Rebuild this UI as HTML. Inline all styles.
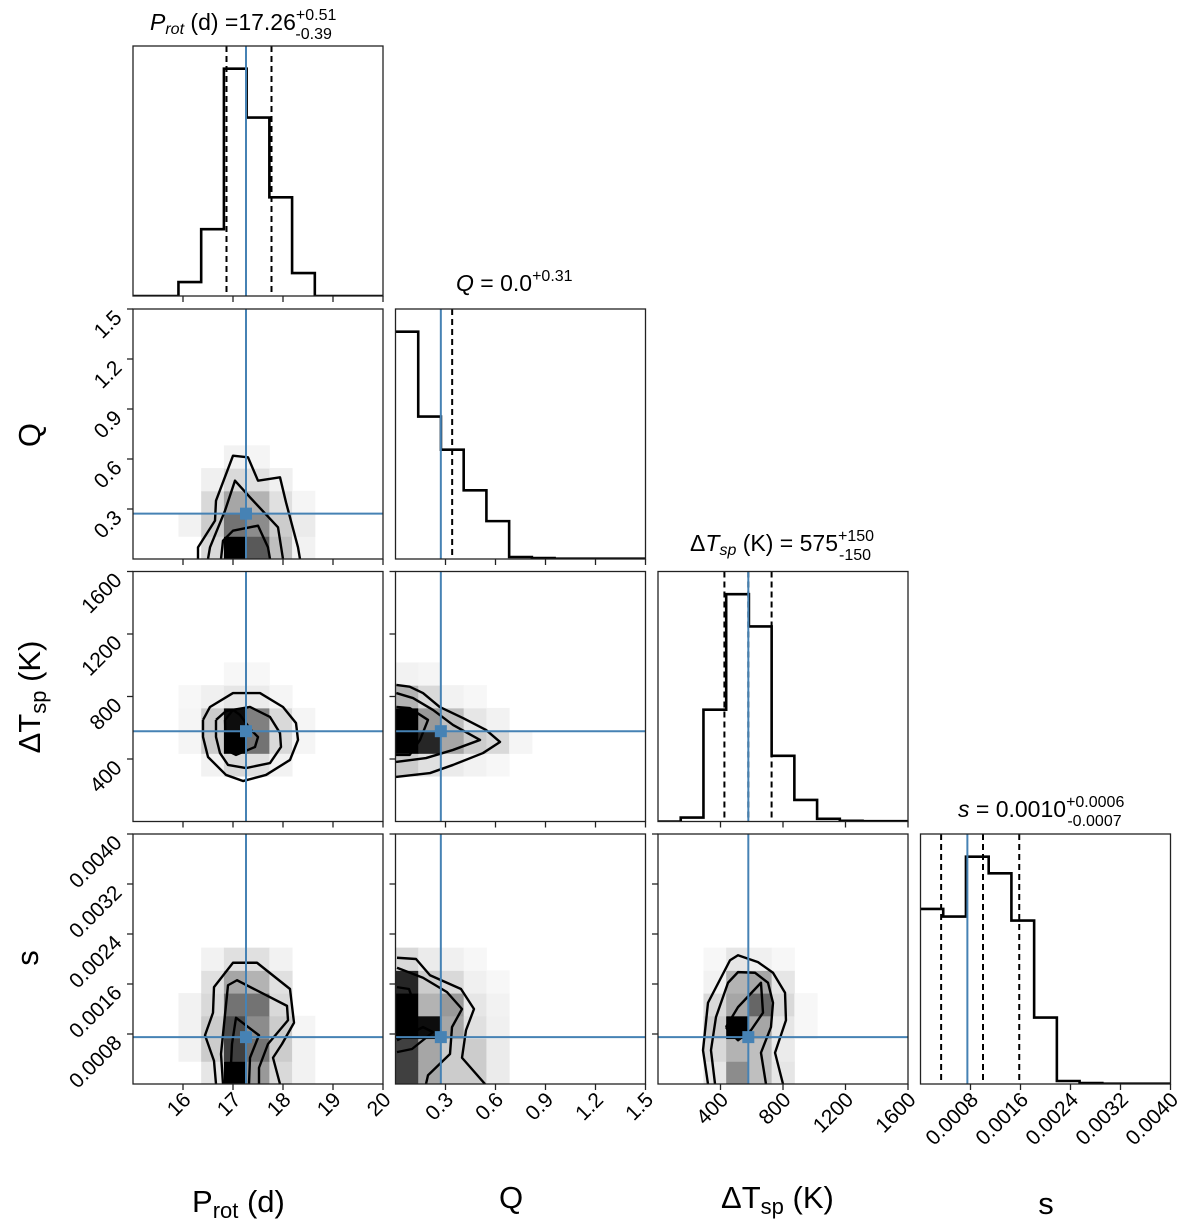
<!DOCTYPE html>
<html><head><meta charset="utf-8"><title>Corner plot</title>
<style>
html,body{margin:0;padding:0;background:#fff;}
svg{display:block;font-family:"Liberation Sans","DejaVu Sans",sans-serif;}
</style></head>
<body>
<svg id="fig" width="1200" height="1226" viewBox="0 0 1200 1226" xmlns="http://www.w3.org/2000/svg">
  <g id="titles">
    <text x="150" y="30" font-size="23"><tspan font-style="italic">P</tspan><tspan font-style="italic" font-size="16" dy="4">rot</tspan><tspan dy="-4"> (d) =17.26</tspan><tspan font-size="16" dy="-10">+0.51</tspan><tspan font-size="16" dx="-41" dy="19">-0.39</tspan></text>
    <text x="456" y="291" font-size="23"><tspan font-style="italic">Q</tspan><tspan> =  0.0</tspan><tspan font-size="16" dy="-10">+0.31</tspan></text>
    <text x="690" y="551" font-size="23"><tspan>Δ</tspan><tspan font-style="italic">T</tspan><tspan font-style="italic" font-size="16" dy="4">sp</tspan><tspan dy="-4"> (K) = 575</tspan><tspan font-size="16" dy="-10">+150</tspan><tspan font-size="16" dx="-35" dy="19">-150</tspan></text>
    <text x="958" y="817" font-size="23"><tspan font-style="italic">s</tspan><tspan> = 0.0010</tspan><tspan font-size="16" dy="-10">+0.0006</tspan><tspan font-size="16" dx="-57" dy="19">-0.0007</tspan></text>
  </g>
  <g id="axlabels">
    <text x="192" y="1212" font-size="31">P<tspan font-size="22" dy="6">rot</tspan><tspan dy="-6"> (d)</tspan></text>
    <text x="511" y="1208" font-size="31" text-anchor="middle">Q</text>
    <text x="721" y="1208" font-size="31">ΔT<tspan font-size="22" dy="6">sp</tspan><tspan dy="-6"> (K)</tspan></text>
    <text x="1046" y="1214" font-size="31" text-anchor="middle">s</text>
    <text transform="translate(40,435) rotate(-90)" font-size="31" text-anchor="middle">Q</text>
    <text transform="translate(40,697) rotate(-90)" font-size="31" text-anchor="middle">ΔT<tspan font-size="22" dy="6">sp</tspan><tspan dy="-6"> (K)</tspan></text>
    <text transform="translate(38,958) rotate(-90)" font-size="31" text-anchor="middle">s</text>
  </g>
</svg>
<script>
// ---- data ----
const paramNames = ["prot", "q", "dt", "s"];
const paramLo = [15, 0, 0, 0];
const paramHi = [20, 1.5, 1600, 0.004];
const paramTruth = [17.26, 0.272, 578, 0.00075];
const tickVals = [[16,17,18,19,20],[0.3,0.6,0.9,1.2,1.5],[400,800,1200,1600],[0.0008,0.0016,0.0024,0.0032,0.0040]];
const tickLabels = [["16","17","18","19","20"],["0.3","0.6","0.9","1.2","1.5"],["400","800","1200","1600"],["0.0008","0.0016","0.0024","0.0032","0.0040"]];
const nBins = 11;
const histProt = [0,0,14,67,228,179,99,23,0,0,0];
const histQ = [678,425,326,205,113,6,3,1,1,1,1];
const histDT = [0,12,337,685,588,198,65,8,2,1,1];
const histS = [527,504,684,634,492,200,9,3,1,1,1];
const quantProt = [16.87,17.26,17.77];
const quantQ = [0.34];
const quantDT = [425,578,727];
const quantS = [0.00033,0.0010,0.00158];
// 2D density cells: [xBin, yBin, darkness]
const cellsQProt = [[3,0,.15],[4,0,1],[5,0,.65],[6,0,.25],[7,0,.05],[2,1,.05],[3,1,.2],[4,1,.55],[5,1,.45],[6,1,.2],[7,1,.08],[3,2,.15],[4,2,.35],[5,2,.3],[6,2,.12],[7,2,.04],[3,3,.06],[4,3,.15],[5,3,.12],[6,3,.06],[4,4,.05],[5,4,.04]];
const cellsDTProt = [[3,2,.05],[4,2,.15],[5,2,.12],[6,2,.05],[2,3,.04],[3,3,.2],[4,3,1],[5,3,.55],[6,3,.15],[7,3,.04],[2,4,.04],[3,4,.2],[4,4,.95],[5,4,.5],[6,4,.15],[7,4,.04],[2,5,.03],[3,5,.06],[4,5,.1],[5,5,.08],[6,5,.04],[4,6,.03],[5,6,.03]];
const cellsDTQ = [[0,2,.2],[1,2,.12],[2,2,.08],[3,2,.05],[4,2,.03],[0,3,1],[1,3,.85],[2,3,.35],[3,3,.2],[4,3,.15],[5,3,.04],[0,4,1],[1,4,.4],[2,4,.25],[3,4,.1],[4,4,.05],[0,5,.3],[1,5,.15],[2,5,.05],[3,5,.03],[0,6,.05],[1,6,.04]];
const cellsSProt = [[3,0,.1],[4,0,1],[5,0,.4],[6,0,.15],[7,0,.05],[2,1,.05],[3,1,.2],[4,1,.75],[5,1,.55],[6,1,.2],[7,1,.05],[2,2,.05],[3,2,.2],[4,2,.7],[5,2,.45],[6,2,.2],[7,2,.04],[2,3,.05],[3,3,.15],[4,3,.55],[5,3,.55],[6,3,.15],[3,4,.12],[4,4,.35],[5,4,.3],[6,4,.12],[3,5,.05],[4,5,.12],[5,5,.12],[6,5,.05]];
const cellsSQ = [[0,0,.75],[1,0,.35],[2,0,.2],[3,0,.2],[4,0,.08],[0,1,.75],[1,1,.35],[2,1,.2],[3,1,.2],[4,1,.08],[0,2,1],[1,2,.95],[2,2,.35],[3,2,.12],[4,2,.06],[0,3,1],[1,3,.3],[2,3,.4],[3,3,.1],[4,3,.05],[0,4,.85],[1,4,.2],[2,4,.15],[3,4,.06],[4,4,.03],[0,5,.15],[1,5,.08],[2,5,.06],[3,5,.03]];
const cellsSDT = [[2,0,.1],[3,0,.45],[4,0,.25],[5,0,.1],[2,1,.15],[3,1,.3],[4,1,.25],[5,1,.08],[2,2,.2],[3,2,1],[4,2,.35],[5,2,.1],[6,2,.03],[2,3,.15],[3,3,.35],[4,3,.6],[5,3,.15],[6,3,.03],[2,4,.05],[3,4,.3],[4,4,.35],[5,4,.1],[2,5,.03],[3,5,.1],[4,5,.06],[5,5,.03]];
// contours in data units [x, y]
const contQProt = [
 [[16.3,0],[16.3,0.07],[16.64,0.23],[16.66,0.35],[17,0.62],[17.3,0.61],[17.5,0.47],[17.94,0.49],[18.06,0.34],[18.3,0.07],[18.34,0]],
 [[16.5,0],[16.54,0.07],[16.84,0.29],[17.04,0.47],[17.34,0.37],[17.9,0.19],[18,0]],
 [[16.76,0],[16.8,0.11],[17,0.17],[17.5,0.2],[17.7,0.07],[17.74,0]]];
const contDTProt = [
 [[16.4,650],[16.54,733],[17.0,822],[17.54,822],[18.0,733],[18.26,630],[18.3,522],[18.14,394],[17.66,298],[17.2,259],[16.86,298],[16.5,413],[16.4,541],[16.4,650]],
 [[16.66,650],[16.86,707],[17.34,733],[17.74,669],[17.94,566],[17.96,477],[17.74,374],[17.26,342],[16.9,362],[16.74,438],[16.66,541],[16.66,650]],
 [[16.84,650],[17.0,714],[17.14,682],[17.36,586],[17.5,541],[17.44,477],[17.06,426],[16.86,458],[16.84,650]]];
const contDTQ = [
 [[0.005,874],[0.085,863],[0.165,822],[0.265,733],[0.405,662],[0.543,586],[0.627,509],[0.525,438],[0.345,362],[0.207,310],[0.003,285]],
 [[0.005,822],[0.105,790],[0.225,714],[0.345,618],[0.507,522],[0.345,458],[0.183,406],[0.003,381]],
 [[0.005,733],[0.085,726],[0.195,650],[0.147,522],[0.085,426],[0.003,426]]];
const contSProt = [
 [[16.66,0],[16.62,0.00037],[16.44,0.00078],[16.6,0.00114],[16.62,0.00155],[17.0,0.00194],[17.48,0.00194],[18.14,0.00152],[18.22,0.00098],[17.98,0.00064],[17.8,0.00042],[17.94,0]],
 [[16.8,0],[16.76,0.00048],[16.9,0.00158],[17.08,0.00166],[18.08,0.00125],[18.1,0.00102],[17.7,0.00064],[17.52,0.00026],[17.52,0]],
 [[16.94,0],[16.98,0.00064],[17.06,0.00106],[17.52,0.00078],[17.34,0.00042],[17.32,0]]];
const contSQ = [
 [[0.009,0.00202],[0.123,0.002],[0.207,0.00174],[0.393,0.00152],[0.471,0.0012],[0.423,0.00086],[0.399,0.00042],[0.537,0]],
 [[0.009,0.00186],[0.165,0.0017],[0.309,0.00147],[0.399,0.0012],[0.339,0.00091],[0.327,0.00048],[0.195,0.00014],[0.183,0]],
 [[0.009,0.00155],[0.081,0.00152],[0.11,0.0013],[0.009,0.0012]],
 [[0.009,0.0007],[0.165,0.00091],[0.225,0.00083],[0.099,0.00056],[0.009,0.00051]]];
const contSDT = [
 [[320,0],[288,0.00054],[320,0.0013],[461,0.00198],[512,0.00206],[640,0.00195],[736,0.00178],[813,0.00146],[819,0.00102],[749,0.0005],[800,0]],
 [[365,0],[339,0.00054],[371,0.00107],[448,0.00162],[512,0.00179],[621,0.00178],[704,0.00162],[736,0.0013],[723,0.00091],[659,0.0005],[691,0]],
 [[435,0.00091],[512,0.00123],[659,0.00162],[672,0.00114],[595,0.00086],[512,0.0007],[448,0.00086],[435,0.00091]]];

// ---- layout ----
const NS = "http://www.w3.org/2000/svg";
const svg = document.getElementById("fig");
const colX = [133, 395.5, 658, 920.5];
const rowY = [46, 309, 571.5, 834];
const SZ = 250;
const BLUE = "#4682b4";
const hists = [histProt, histQ, histDT, histS];
const quants = [quantProt, quantQ, quantDT, quantS];
const cells2d = {"1,0": cellsQProt, "2,0": cellsDTProt, "2,1": cellsDTQ, "3,0": cellsSProt, "3,1": cellsSQ, "3,2": cellsSDT};
const conts2d = {"1,0": contQProt, "2,0": contDTProt, "2,1": contDTQ, "3,0": contSProt, "3,1": contSQ, "3,2": contSDT};

function mk(tag, attrs, parent) {
  const el = document.createElementNS(NS, tag);
  for (const k in attrs) el.setAttribute(k, attrs[k]);
  (parent || svg).appendChild(el);
  return el;
}
function xs(p, c, v) { return colX[c] + (v - paramLo[p]) / (paramHi[p] - paramLo[p]) * SZ; }
function ys(p, r, v) { return rowY[r] + SZ - (v - paramLo[p]) / (paramHi[p] - paramLo[p]) * SZ; }

const defs = mk("defs", {});
for (let r = 0; r < 4; r++) {
  for (let c = 0; c <= r; c++) {
    const g = mk("g", {});
    
    
    const cp = mk("clipPath", {id: "cp" + r + c}, defs);
    mk("rect", {x: colX[c], y: rowY[r], width: SZ, height: SZ}, cp);
    const inner = mk("g", {"clip-path": "url(#cp" + r + c + ")"}, g);
    if (r === c) {
      const h = hists[c];
      const mx = Math.max(...h) * 1.1;
      const bw = (paramHi[c] - paramLo[c]) / nBins;
      let d = "";
      for (let i = 0; i < nBins; i++) {
        const x0 = xs(c, c, paramLo[c] + i * bw), x1 = xs(c, c, paramLo[c] + (i + 1) * bw);
        const y = rowY[r] + SZ - h[i] / mx * SZ;
        d += (i === 0 ? "M" : "L") + x0 + "," + y + "L" + x1 + "," + y;
      }
      const hp = mk("path", {d: d, fill: "none", stroke: "#000", "stroke-width": 2.6}, inner);
      
      
      quants[c].forEach(q => {
        const x = xs(c, c, q);
        const ql = mk("line", {x1: x, x2: x, y1: rowY[r], y2: rowY[r] + SZ, stroke: "#000", "stroke-width": 2, "stroke-dasharray": "6,4"}, inner);
        
        
      });
      const tx = xs(c, c, paramTruth[c]);
      const tl = mk("line", {x1: tx, x2: tx, y1: rowY[r], y2: rowY[r] + SZ, stroke: BLUE, "stroke-width": 2}, inner);
      
      
    } else {
      const bwx = (paramHi[c] - paramLo[c]) / nBins, bwy = (paramHi[r] - paramLo[r]) / nBins;
      cells2d[r + "," + c].forEach(cl => {
        const x0 = xs(c, c, paramLo[c] + cl[0] * bwx), x1 = xs(c, c, paramLo[c] + (cl[0] + 1) * bwx);
        const y1 = ys(r, r, paramLo[r] + cl[1] * bwy), y0 = ys(r, r, paramLo[r] + (cl[1] + 1) * bwy);
        const gv = Math.round(255 * (1 - cl[2]));
        const rc = mk("rect", {x: x0, y: y0, width: x1 - x0 + 0.5, height: y1 - y0 + 0.5, fill: "rgb(" + gv + "," + gv + "," + gv + ")"}, inner);
        
        
      });
      conts2d[r + "," + c].forEach(ct => {
        const d = ct.map((pt, i) => (i ? "L" : "M") + xs(c, c, pt[0]) + "," + ys(r, r, pt[1])).join("");
        const cpth = mk("path", {d: d, fill: "none", stroke: "#000", "stroke-width": 2.4, "stroke-linejoin": "round"}, inner);
        
        
      });
      const tx = xs(c, c, paramTruth[c]), ty = ys(r, r, paramTruth[r]);
      const vl = mk("line", {x1: tx, x2: tx, y1: rowY[r], y2: rowY[r] + SZ, stroke: BLUE, "stroke-width": 2}, inner);
      
      
      const hl = mk("line", {x1: colX[c], x2: colX[c] + SZ, y1: ty, y2: ty, stroke: BLUE, "stroke-width": 2}, inner);
      
      
      const mkr = mk("rect", {x: tx - 6, y: ty - 6, width: 12, height: 12, fill: BLUE}, inner);
      
      
    }
    const frame = mk("rect", {x: colX[c], y: rowY[r], width: SZ, height: SZ, fill: "none", stroke: "#222", "stroke-width": 1.3}, g);
    
    
    tickVals[c].forEach((v, i) => {
      const x = xs(c, c, v), yb = rowY[r] + SZ;
      const tk = mk("line", {x1: x, x2: x, y1: yb, y2: yb + 6, stroke: "#222", "stroke-width": 1.3}, g);
      
      
      if (r === 3) {
        const t = mk("text", {transform: "translate(" + (x + 9) + "," + (yb + 17) + ") rotate(-45)", "text-anchor": "end", "font-size": 21}, g);
        t.textContent = tickLabels[c][i];
        
        
      }
    });
    if (r !== c) {
      tickVals[r].forEach((v, i) => {
        const y = ys(r, r, v), xl = colX[c];
        const tk = mk("line", {x1: xl - 6, x2: xl, y1: y, y2: y, stroke: "#222", "stroke-width": 1.3}, g);
        
        
        if (c === 0) {
          const t = mk("text", {transform: "translate(" + (xl - 10) + "," + (y + 10) + ") rotate(-45)", "text-anchor": "end", "font-size": 21}, g);
          t.textContent = tickLabels[r][i];
          
          
        }
      });
    }
  }
}
</script>
</body></html>
